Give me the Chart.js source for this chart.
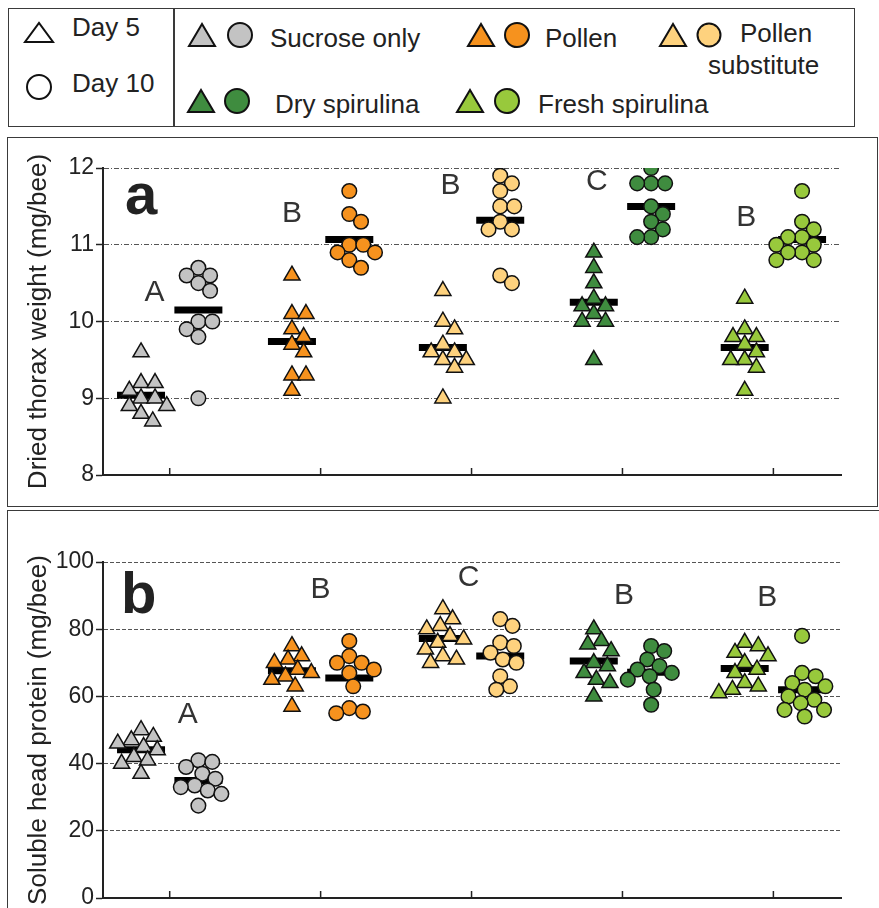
<!DOCTYPE html>
<html>
<head>
<meta charset="utf-8">
<script src="https://cdn.jsdelivr.net/npm/chart.js@4.4.1/dist/chart.umd.min.js"></script>
<style>
  body { margin: 0; width: 879px; height: 908px; background: #fff; position: relative; overflow: hidden;
         font-family: Arial, "Liberation Sans", sans-serif; color: #222; }
  .box { position: absolute; border: 1.5px solid #3a3a3a; box-sizing: border-box; }
  .lg { position: absolute; font-size: 26px; line-height: 26px; white-space: nowrap; }
  .plet { position: absolute; font-weight: bold; font-size: 58px; line-height: 58px; color: #222; }
  svg.mk { position: absolute; left: 0; top: 0; overflow: visible; }
  canvas { position: absolute; }
</style>
</head>
<body>

<!-- legend -->
<div class="box" style="left:8px;top:8px;width:167px;height:119px;"></div>
<div class="box" style="left:173px;top:8px;width:682px;height:119px;"></div>
<svg class="mk" width="879" height="130">
  <g stroke="#111" stroke-width="2" stroke-linejoin="miter">
    <polygon points="25,42 53,42 39,23" fill="#fff"/>
    <circle cx="39" cy="87" r="12" fill="#fff"/>
    <polygon points="189,46 215,46 202,24" fill="#C3C3C3"/>
    <circle cx="240" cy="35" r="12" fill="#C3C3C3"/>
    <polygon points="468,46 494,46 481,24" fill="#F6921E"/>
    <circle cx="517" cy="35" r="12" fill="#F6921E"/>
    <polygon points="660,46 686,46 673,24" fill="#FED27E"/>
    <circle cx="709" cy="35" r="11.5" fill="#FED27E"/>
    <polygon points="188,112 214,112 201,90" fill="#3F8C3F"/>
    <circle cx="237" cy="101" r="12" fill="#3F8C3F"/>
    <polygon points="457,112 483,112 470,90" fill="#98C93C"/>
    <circle cx="507" cy="101" r="12" fill="#98C93C"/>
  </g>
</svg>
<div class="lg" style="left:72px;top:14px;">Day 5</div>
<div class="lg" style="left:72px;top:70px;">Day 10</div>
<div class="lg" style="left:270px;top:25px;">Sucrose only</div>
<div class="lg" style="left:545px;top:25px;">Pollen</div>
<div class="lg" style="left:740px;top:20px;">Pollen</div>
<div class="lg" style="left:708px;top:52px;">substitute</div>
<div class="lg" style="left:275px;top:91px;">Dry spirulina</div>
<div class="lg" style="left:538px;top:91px;">Fresh spirulina</div>

<!-- panels -->
<div class="box" style="left:7px;top:137px;width:871px;height:370px;"></div>
<div class="box" style="left:7px;top:510px;width:890px;height:420px;"></div>
<canvas id="weightChart" width="864" height="369" style="left:8px;top:137px;"></canvas>
<canvas id="proteinChart" width="864" height="420" style="left:8px;top:511px;"></canvas>
<div class="plet" style="left:125px;top:165px;">a</div>
<div class="plet" style="left:121px;top:564px;">b</div>

<script>
// ---- data ----
const groups = ['Sucrose only', 'Pollen', 'Pollen substitute', 'Dry spirulina', 'Fresh spirulina'];
const colors = ['#C3C3C3', '#F6921E', '#FED27E', '#3F8C3F', '#98C93C'];

const weightTicks = [8, 9, 10, 11, 12];
const weightDay5 = [
  [9.6, 9.2, 9.2, 9.1, 9.0, 9.0, 8.9, 8.9, 8.8, 8.7],
  [10.6, 10.1, 10.1, 9.9, 9.8, 9.7, 9.6, 9.3, 9.3, 9.1],
  [10.4, 10.0, 9.9, 9.7, 9.6, 9.6, 9.5, 9.5, 9.4, 9.0],
  [10.9, 10.7, 10.5, 10.3, 10.2, 10.2, 10.1, 10.0, 10.0, 9.5],
  [10.3, 9.9, 9.8, 9.8, 9.7, 9.6, 9.5, 9.5, 9.4, 9.1]
];
const weightDay10 = [
  [10.7, 10.6, 10.6, 10.5, 10.4, 10.0, 10.0, 9.9, 9.8, 9.0],
  [11.7, 11.4, 11.3, 11.0, 11.0, 10.9, 10.9, 10.8, 10.7],
  [11.9, 11.8, 11.7, 11.5, 11.5, 11.3, 11.2, 11.2, 10.6, 10.5],
  [12.0, 11.8, 11.8, 11.8, 11.5, 11.4, 11.3, 11.2, 11.1, 11.1],
  [11.7, 11.3, 11.2, 11.1, 11.1, 11.0, 11.0, 10.9, 10.9, 10.8, 10.8]
];
const weightMean5 = [9.04, 9.74, 9.66, 10.25, 9.66];
const weightMean10 = [10.15, 11.07, 11.32, 11.5, 11.07];
const weightLetters = ['A', 'B', 'B', 'C', 'B'];

const proteinTicks = [0, 20, 40, 60, 80, 100];
const proteinDay5 = [
  [50, 48, 47, 46, 45, 44, 42, 41, 40, 37],
  [75, 72, 71, 70, 68, 67, 66, 65, 63, 57],
  [86, 83, 81, 80, 78, 77, 76, 74, 72, 71, 70],
  [80, 76.5, 75.5, 73.5, 70, 69, 67, 65, 64, 60],
  [76, 75, 73, 72, 70, 68, 67, 64, 63, 62, 61]
];
const proteinDay10 = [
  [41, 40.5, 39, 37, 35.5, 33.5, 33, 32, 31, 27.5],
  [76.5, 72, 70, 70, 68, 67, 63, 56.5, 55.5, 55],
  [83, 81, 76, 75, 73, 71, 70, 66, 63, 62],
  [75, 73.5, 71, 69, 68, 67, 66, 65, 62, 57.5],
  [78, 67, 66, 64, 63, 62, 60, 59, 58, 56, 56, 54]
];
const proteinMean5 = [44.1, 67.6, 77.2, 70.5, 68.3];
const proteinMean10 = [35.0, 65.5, 72.0, 67.2, 62.0];
const proteinLetters = ['A', 'B', 'C', 'B', 'B'];

// ---- layout (not data) ----
const dayShift = 0.19;
const weightLetterPos = [[-0.1, 10.38], [-0.19, 11.4], [-0.14, 11.77], [-0.17, 11.82], [-0.18, 11.35]];
const proteinLetterPos = [[0.12, 54.5], [0, 91.7], [-0.02, 95.2], [0.01, 90], [-0.04, 89.3]];

function swarm(ys, D) {
  const order = ys.map((y, i) => i).sort((a, b) => ys[a] - ys[b]);
  const placed = [];
  const out = new Array(ys.length).fill(0);
  order.forEach(i => {
    const y = ys[i];
    const cands = [0];
    placed.forEach(p => {
      const dy = Math.abs(p.y - y);
      if (dy < D) {
        const dx = Math.sqrt(D * D - dy * dy);
        cands.push(p.x + dx, p.x - dx);
      }
    });
    cands.sort((a, b) => Math.abs(a) - Math.abs(b));
    const best = cands.find(c => placed.every(p => (p.x - c) ** 2 + (p.y - y) ** 2 >= D * D - 0.01));
    out[i] = best;
    placed.push({x: best, y: y});
  });
  return out;
}

function buildDatasets(day5, day10, mean5, mean10) {
  const sets = [];
  groups.forEach((name, g) => {
    const c5 = g + 1 - dayShift, c10 = g + 1 + dayShift;
    const bar = {pointStyle: 'line', pointRadius: 24, pointBorderWidth: 7, pointBorderColor: '#000',
                 borderColor: '#000', order: 2};
    sets.push(Object.assign({data: [{x: c5, y: mean5[g]}]}, bar));
    sets.push(Object.assign({data: [{x: c10, y: mean10[g]}]}, bar));
    sets.push({data: day5[g].map(v => ({x: c5, y: v})), pointStyle: 'triangle', pointRadius: 9.3,
               pointBackgroundColor: colors[g], pointBorderColor: '#111', pointBorderWidth: 1.5, order: 1});
    sets.push({data: day10[g].map(v => ({x: c10, y: v})), pointStyle: 'circle', pointRadius: 7.3,
               pointBackgroundColor: colors[g], pointBorderColor: '#111', pointBorderWidth: 1.5, order: 1});
  });
  return sets;
}

function makeChart(id, opts) {
  const extras = {
    id: 'extras',
    afterDatasetsDraw(chart) {
      const ctx = chart.ctx, xs = chart.scales.x, ys = chart.scales.y, area = chart.chartArea;
      ctx.save();
      ctx.strokeStyle = '#222';
      ctx.lineWidth = 1.5;
      groups.forEach((n, g) => {
        const x = xs.getPixelForValue(g + 1);
        ctx.beginPath();
        ctx.moveTo(x, area.bottom);
        ctx.lineTo(x, area.bottom - 7);
        ctx.stroke();
      });
      ctx.fillStyle = '#333';
      ctx.font = '30px Arial, "Liberation Sans", sans-serif';
      ctx.textAlign = 'center';
      ctx.textBaseline = 'middle';
      opts.letters.forEach((t, g) => {
        const p = opts.letterPos[g];
        ctx.fillText(t, xs.getPixelForValue(g + 1 + p[0]), ys.getPixelForValue(p[1]));
      });
      ctx.restore();
    }
  };
  const yMin = opts.ticks[0], yMax = opts.ticks[opts.ticks.length - 1];
  const chart = new Chart(document.getElementById(id), {
    type: 'scatter',
    data: {datasets: buildDatasets(opts.day5, opts.day10, opts.mean5, opts.mean10)},
    options: {
      responsive: false,
      animation: false,
      layout: {padding: {top: opts.padTop, right: 15, left: 0, bottom: 0}},
      plugins: {legend: {display: false}, tooltip: {enabled: false}},
      scales: {
        x: {
          type: 'linear', min: 0.558, max: 5.448,
          ticks: {display: false},
          grid: {display: false},
          border: {display: true, color: '#222', width: 2},
          afterFit: s => { s.height = opts.xHeight; }
        },
        y: {
          min: yMin, max: yMax,
          afterBuildTicks: s => { s.ticks = opts.ticks.map(v => ({value: v})); },
          ticks: {color: '#222', font: {size: 23, family: 'Arial, "Liberation Sans", sans-serif'}, padding: 2},
          grid: {
            color: c => (c.tick && c.tick.value === yMin) ? 'rgba(0,0,0,0)' : '#555',
            lineWidth: 1, tickLength: 7, tickColor: '#222', tickWidth: 1.5, tickBorderDash: []
          },
          border: {display: true, color: '#222', width: 2, dash: opts.dash},
          title: {display: true, text: opts.title, color: '#222',
                  font: {size: 26, family: 'Arial, "Liberation Sans", sans-serif'}, padding: {top: 15, bottom: 0}},
          afterFit: s => { s.width = 95; }
        }
      }
    },
    plugins: [extras]
  });

  // spread the dots sideways (beeswarm) using the chart's own scales
  const xs = chart.scales.x, ys = chart.scales.y;
  const pxPerUnit = xs.getPixelForValue(1) - xs.getPixelForValue(0);
  chart.data.datasets.forEach(ds => {
    if (ds.pointStyle === 'line') return;
    const cx = ds.data[0].x;
    const offs = swarm(ds.data.map(p => ys.getPixelForValue(p.y)), 14);
    ds.data.forEach((p, i) => { p.x = cx + offs[i] / pxPerUnit; });
  });
  chart.update('none');
  return chart;
}

makeChart('weightChart', {
  day5: weightDay5, day10: weightDay10, mean5: weightMean5, mean10: weightMean10,
  ticks: weightTicks, letters: weightLetters, letterPos: weightLetterPos,
  title: 'Dried thorax weight (mg/bee)', dash: [5, 2, 1, 2], padTop: 19, xHeight: 14
});
makeChart('proteinChart', {
  day5: proteinDay5, day10: proteinDay10, mean5: proteinMean5, mean10: proteinMean10,
  ticks: proteinTicks, letters: proteinLetters, letterPos: proteinLetterPos,
  title: 'Soluble head protein (mg/bee)', dash: [4, 2], padTop: 51, xHeight: 33
});
</script>
</body>
</html>
